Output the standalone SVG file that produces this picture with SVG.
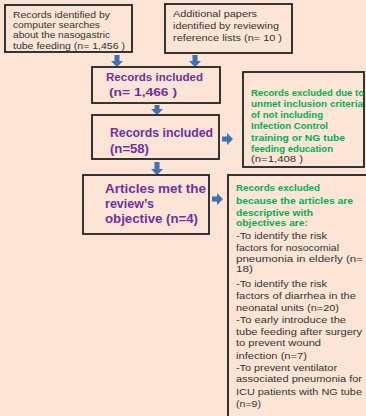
<svg xmlns="http://www.w3.org/2000/svg" width="366" height="416" viewBox="0 0 366 416">
<defs>
<style>
.box{fill:#fce5d6;stroke:#222;stroke-width:1.8}
.t{font-family:"Liberation Sans",Arial,sans-serif;font-size:9.5px;fill:#333}
.p{font-family:"Liberation Sans",Arial,sans-serif;font-weight:bold;fill:#7030a0}
.g{font-family:"Liberation Sans",Arial,sans-serif;font-size:9.5px;font-weight:bold;fill:#00b050}
.arr{fill:#3f70b0}
</style>
</defs>
<rect x="0" y="0" width="366" height="416" fill="#fce5d6"/>
<g id="connectors">
<path class="arr" d="M114.5 55 h5 v6 h3.5 l-6 6 l-6 -6 h3.5 z"/>
<path class="arr" d="M192.5 55 h5 v6 h3.5 l-6 6 l-6 -6 h3.5 z"/>
<path class="arr" d="M154.5 105 h5 v4 h3.5 l-6 6 l-6 -6 h3.5 z"/>
<path class="arr" d="M154.5 162 h5 v7 h3.5 l-6 6 l-6 -6 h3.5 z"/>
<path class="arr" d="M222 136.5 v5 h5 v3.5 l6 -6 l-6 -6 v3.5 z"/>
<path class="arr" d="M212 196.5 v5 h5 v3.5 l6 -6 l-6 -6 v3.5 z"/>
</g>
<g id="n1">
<rect class="box" x="5" y="5" width="127" height="47"/>
<text class="t" x="13" y="18" textLength="97" lengthAdjust="spacingAndGlyphs">Records identified  by</text>
<text class="t" x="13" y="28" textLength="87" lengthAdjust="spacingAndGlyphs">computer searches</text>
<text class="t" x="13" y="38" textLength="97" lengthAdjust="spacingAndGlyphs">about the nasogastric</text>
<text class="t" x="13" y="49" textLength="112" lengthAdjust="spacingAndGlyphs">tube feeding (n= 1,456 )</text>
</g>
<g id="n2">
<rect class="box" x="165" y="4" width="127" height="49"/>
<text class="t" x="173" y="17" textLength="84" lengthAdjust="spacingAndGlyphs">Additional   papers</text>
<text class="t" x="173" y="29" textLength="106" lengthAdjust="spacingAndGlyphs">identified  by reviewing</text>
<text class="t" x="173" y="41" textLength="109" lengthAdjust="spacingAndGlyphs">reference  lists (n= 10 )</text>
</g>
<g id="n3">
<rect class="box" x="92" y="67" width="128" height="36"/>
<text class="p" x="106" y="81" font-size="11" textLength="97" lengthAdjust="spacingAndGlyphs">Records included</text>
<text class="p" x="109" y="96" font-size="11" textLength="68" lengthAdjust="spacingAndGlyphs">(n= 1,466   )</text>
</g>
<g id="n4">
<rect class="box" x="92" y="115" width="127" height="44"/>
<text class="p" x="110" y="137" font-size="12" textLength="103" lengthAdjust="spacingAndGlyphs">Records included</text>
<text class="p" x="110" y="153" font-size="12" textLength="39" lengthAdjust="spacingAndGlyphs">(n=58)</text>
</g>
<g id="n5">
<rect class="box" x="83" y="175" width="126" height="59"/>
<text class="p" x="105" y="193" font-size="13" textLength="101" lengthAdjust="spacingAndGlyphs">Articles met the</text>
<text class="p" x="105" y="208" font-size="13" textLength="49" lengthAdjust="spacingAndGlyphs">review’s</text>
<text class="p" x="105" y="223" font-size="13" textLength="93" lengthAdjust="spacingAndGlyphs">objective (n=4)</text>
</g>
<g id="n6">
<rect class="box" x="243" y="72" width="121" height="95"/>
<text class="g" x="251" y="96" textLength="113" lengthAdjust="spacingAndGlyphs">Records excluded due to</text>
<text class="g" x="251" y="107" textLength="112" lengthAdjust="spacingAndGlyphs">unmet inclusion  criteria</text>
<text class="g" x="251" y="118" textLength="72" lengthAdjust="spacingAndGlyphs">of not  including</text>
<text class="g" x="251" y="129" textLength="77" lengthAdjust="spacingAndGlyphs">Infection Control</text>
<text class="g" x="251" y="141" textLength="94" lengthAdjust="spacingAndGlyphs">training  or NG tube</text>
<text class="g" x="251" y="152" textLength="82" lengthAdjust="spacingAndGlyphs">feeding education</text>
<text class="t" x="251" y="162" textLength="52" lengthAdjust="spacingAndGlyphs">(n=1,408  )</text>
</g>
<g id="n7">
<rect class="box" x="228" y="175" width="145" height="250"/>
<text class="g" x="236" y="191" textLength="84" lengthAdjust="spacingAndGlyphs">Records  excluded</text>
<text class="g" x="236" y="204" textLength="117" lengthAdjust="spacingAndGlyphs">because  the  articles  are</text>
<text class="g" x="236" y="216" textLength="77" lengthAdjust="spacingAndGlyphs">descriptive   with</text>
<text class="g" x="236" y="226" textLength="72" lengthAdjust="spacingAndGlyphs">objectives  are:</text>
<text class="t" x="236" y="239" textLength="91" lengthAdjust="spacingAndGlyphs">-To identify  the risk</text>
<text class="t" x="236" y="251" textLength="103" lengthAdjust="spacingAndGlyphs">factors for nosocomial</text>
<text class="t" x="236" y="262" textLength="127" lengthAdjust="spacingAndGlyphs">pneumonia  in elderly (n=</text>
<text class="t" x="236" y="272" textLength="17" lengthAdjust="spacingAndGlyphs">18)</text>
<text class="t" x="236" y="287" textLength="91" lengthAdjust="spacingAndGlyphs">-To identify  the risk</text>
<text class="t" x="236" y="299" textLength="120" lengthAdjust="spacingAndGlyphs">factors of diarrhea  in the</text>
<text class="t" x="236" y="311" textLength="103" lengthAdjust="spacingAndGlyphs">neonatal  units  (n=20)</text>
<text class="t" x="236" y="323" textLength="110" lengthAdjust="spacingAndGlyphs">-To early  introduce  the</text>
<text class="t" x="236" y="335" textLength="126" lengthAdjust="spacingAndGlyphs">tube feeding  after surgery</text>
<text class="t" x="236" y="346" textLength="85" lengthAdjust="spacingAndGlyphs">to prevent  wound</text>
<text class="t" x="236" y="359" textLength="71" lengthAdjust="spacingAndGlyphs">infection  (n=7)</text>
<text class="t" x="236" y="371" textLength="101" lengthAdjust="spacingAndGlyphs">-To prevent ventilator</text>
<text class="t" x="236" y="382" textLength="126" lengthAdjust="spacingAndGlyphs">associated pneumonia  for</text>
<text class="t" x="236" y="395" textLength="126" lengthAdjust="spacingAndGlyphs">ICU patients with  NG tube</text>
<text class="t" x="236" y="407" textLength="25" lengthAdjust="spacingAndGlyphs">(n=9)</text>
</g>
</svg>
